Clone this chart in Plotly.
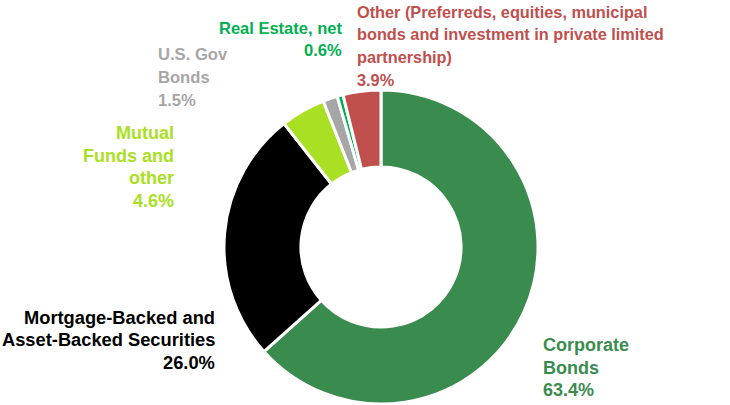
import plotly.graph_objects as go

# Portfolio composition (percent of total investments)
categories = [
    "Corporate Bonds",
    "Mortgage-Backed and Asset-Backed Securities",
    "Mutual Funds and other",
    "U.S. Gov Bonds",
    "Real Estate, net",
    "Other (Preferreds, equities, municipal bonds and investment in private limited partnership)",
]
shares = [63.4, 26.0, 4.6, 1.5, 0.6, 3.9]
colors = ["#3A8C4E", "#000000", "#A9E023", "#A6A6A6", "#00B050", "#C0504D"]

# Wrapped label text for each slice
label_lines = [
    ["Corporate", "Bonds"],
    ["Mortgage-Backed and", "Asset-Backed Securities"],
    ["Mutual", "Funds and", "other"],
    ["U.S. Gov", "Bonds"],
    ["Real Estate, net"],
    ["Other (Preferreds, equities, municipal", "bonds and investment in private limited", "partnership)"],
]

W, H = 730, 405
LINE = 22.5

fig = go.Figure(go.Pie(
    labels=categories,
    values=shares,
    sort=False,
    direction="clockwise",
    rotation=0,
    hole=0.51,
    marker=dict(colors=colors, line=dict(color="white", width=3)),
    textinfo="none",
    hoverinfo="skip",
    showlegend=False,
    domain=dict(x=[224 / W, 538 / W], y=[1 - 404 / H, 1 - 90 / H]),
))

# Label placement: (x px, first-line centre y px, xanchor, font size)
placements = [
    (541, 345, "left", 18),
    (217, 317, "right", 18.3),
    (176, 133, "right", 18),
    (156, 55, "left", 16.6),
    (344, 28, "right", 16.5),
    (355, 12, "left", 16.3),
]

for lines, val, col, (px, py, xa, fs) in zip(label_lines, shares, colors, placements):
    for i, line in enumerate(lines + [f"{val:.1f}%"]):
        fig.add_annotation(
            x=px / W, y=1 - (py + i * LINE) / H, xref="paper", yref="paper",
            xanchor=xa, yanchor="middle",
            text=f"<b>{line}</b>", showarrow=False,
            font=dict(family="Liberation Sans, Arial, sans-serif", size=fs, color=col),
        )

fig.update_layout(
    width=W, height=H,
    margin=dict(l=0, r=0, t=0, b=0),
    paper_bgcolor="white",
    plot_bgcolor="white",
)

fig.write_html("out.html")
